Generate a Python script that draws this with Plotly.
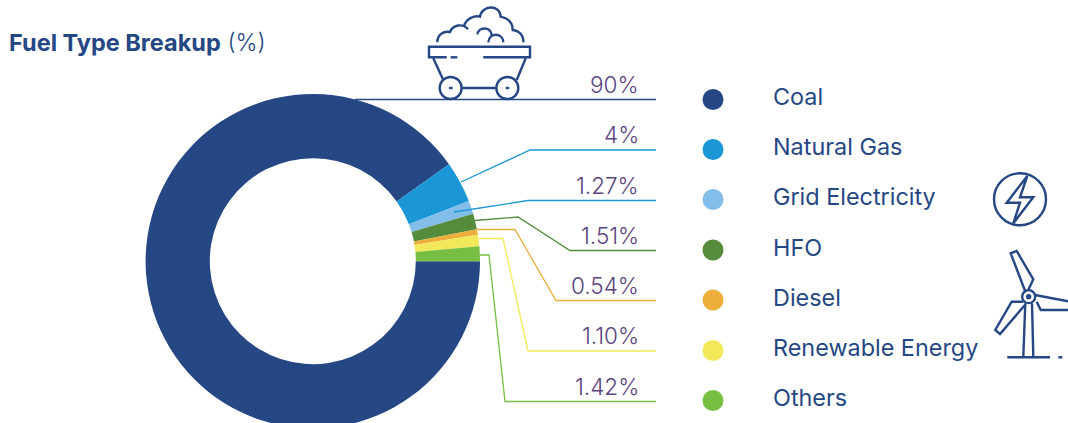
import plotly.graph_objects as go

categories = ["Coal", "Natural Gas", "Grid Electricity", "HFO", "Diesel", "Renewable Energy", "Others"]
values = [90, 4, 1.27, 1.51, 0.54, 1.10, 1.42]
value_labels = ["90%", "4%", "1.27%", "1.51%", "0.54%", "1.10%", "1.42%"]
colors = ["#254784", "#1b96d6", "#83bde9", "#548c3c", "#edae3c", "#f1e85a", "#76bf43"]
line_colors = ["#254784", "#1b96d6", "#1b96d6", "#548c3c", "#edae3c", "#f1e85a", "#76bf43"]
leaders = [
    [(355, 99.5), (656, 99.5)],
    [(461, 182), (530, 150), (656, 150)],
    [(454, 212), (528, 200.5), (656, 200.5)],
    [(475, 220.5), (518, 217), (570, 250.5), (656, 250.5)],
    [(477, 229.5), (515, 229.5), (556, 300.5), (656, 300.5)],
    [(479, 238.5), (503, 238.5), (528, 351), (656, 351)],
    [(480, 255), (489, 255), (505, 401.5), (656, 401.5)],
]
legend_y = [99.5, 149.5, 199.5, 250, 300, 350.5, 400.5]

W, H = 1068, 440
INK = "#254784"
PURPLE = "#5b4480"
FONT = "Inter"

fig = go.Figure()
fig.add_trace(go.Pie(
    labels=categories, values=values, sort=False, direction="clockwise", rotation=90,
    hole=0.616, marker=dict(colors=colors, line=dict(width=0)), textinfo="none",
    hoverinfo="none", showlegend=False,
    domain=dict(x=[145.6 / W, 480 / W], y=[1 - 428.4 / H, 1 - 94 / H]),
))
fig.add_trace(go.Scatter(
    x=[713] * len(categories), y=legend_y, mode="markers",
    marker=dict(size=21, color=colors), hoverinfo="none", showlegend=False,
))

shapes = []
def path(d, color=INK, width=2.4):
    shapes.append(dict(type="path", path=d, xref="x", yref="y", layer="above",
                       line=dict(color=color, width=width)))

def circle(cx, cy, r, color=INK, width=2.4, fill=None):
    shapes.append(dict(type="circle", x0=cx - r, x1=cx + r, y0=cy - r, y1=cy + r, xref="x", yref="y",
                       layer="above", line=dict(color=color, width=width), fillcolor=fill))

for pts, c in zip(leaders, line_colors):
    path("M" + " L".join(f"{x},{y}" for x, y in pts), color=c, width=1.3)

# Mine cart icon
def Z1(x, y):
    return f"{380 + x / 3:.1f},{y / 3:.1f}"
path(f"M{Z1(172,127)} C{Z1(172,105)} {Z1(190,92)} {Z1(210,96)} C{Z1(218,75)} {Z1(248,68)} {Z1(264,88)}")
path(f"M{Z1(252,78)} C{Z1(258,55)} {Z1(285,45)} {Z1(300,50)} C{Z1(305,15)} {Z1(360,12)} {Z1(362,50)} "
     f"C{Z1(385,55)} {Z1(398,70)} {Z1(398,90)} C{Z1(420,92)} {Z1(432,110)} {Z1(430,127)}")
path(f"M{Z1(292,103)} C{Z1(295,80)} {Z1(332,78)} {Z1(335,105)}")
path(f"M{Z1(325,127)} C{Z1(328,95)} {Z1(370,98)} {Z1(370,127)}")
path(f"M{Z1(200,172)} L{Z1(147,172)} L{Z1(147,140)} L{Z1(450,140)} L{Z1(450,172)} L{Z1(310,172)}")
path(f"M{Z1(212,172)} L{Z1(232,172)}")
path(f"M{Z1(160,175)} L{Z1(190,240)}")
path(f"M{Z1(437,175)} L{Z1(410,240)}")
path(f"M{Z1(247,264)} L{Z1(347,264)}")
path(f"M{Z1(207,264)} L{Z1(218,264)}")
path(f"M{Z1(377,264)} L{Z1(388,264)}")
circle(380 + 212 / 3, 264 / 3, 11)
circle(380 + 382 / 3, 264 / 3, 11)

# Bolt and wind turbine icons
def Z2(x, y):
    return f"{970 + x / 3:.1f},{160 + y / 3:.1f}"
circle(1020, 199.3, 26)
path(f"M{Z2(172,48)} L{Z2(110,128)} L{Z2(150,128)} L{Z2(130,190)} L{Z2(190,112)} L{Z2(150,112)} Z")
circle(970 + 176 / 3, 160 + 410 / 3, 6.5)
circle(970 + 176 / 3, 160 + 410 / 3, 1.5, fill=INK)
path(f"M{Z2(165,392)} L{Z2(122,280)} L{Z2(140,273)} L{Z2(190,358)} L{Z2(175,390)}")
path(f"M{Z2(160,425)} L{Z2(125,425)} L{Z2(76,510)} L{Z2(90,522)} L{Z2(165,435)}")
path(f"M{Z2(195,405)} L{Z2(300,425)}")
path(f"M{Z2(300,450)} L{Z2(212,450)} L{Z2(200,425)}")
path(f"M{Z2(166,430)} L{Z2(160,590)}")
path(f"M{Z2(186,430)} L{Z2(190,590)}")
path(f"M{Z2(112,592)} L{Z2(240,592)}")
path(f"M{Z2(265,592)} L{Z2(277,592)}")

annotations = [dict(
    text='<b>Fuel Type Breakup</b> <span style="font-weight:300">(%)</span>', x=7, y=42, xref="x", yref="y",
    xanchor="left", yanchor="middle", showarrow=False, font=dict(family=FONT, size=23.5, color=INK),
)]
for lab, cat, ly, pts in zip(value_labels, categories, legend_y, leaders):
    annotations.append(dict(text=lab, x=641, y=pts[-1][1] - 15.2, xref="x", yref="y", xanchor="right",
                            yanchor="middle", showarrow=False,
                            font=dict(family=FONT, size=22.5, color=PURPLE, weight=300)))
    annotations.append(dict(text=cat, x=771, y=ly - 2.6, xref="x", yref="y", xanchor="left",
                            yanchor="middle", showarrow=False,
                            font=dict(family=FONT, size=23.4, color=INK, weight=400)))

fig.update_layout(
    width=W, height=H, margin=dict(l=0, r=0, t=0, b=0),
    paper_bgcolor="white", plot_bgcolor="rgba(0,0,0,0)",
    xaxis=dict(range=[0, W], visible=False, fixedrange=True, domain=[0, 1]),
    yaxis=dict(range=[H, 0], visible=False, fixedrange=True, domain=[0, 1]),
    shapes=shapes, annotations=annotations,
)
fig.write_html(
    "out.html",
    config={"displayModeBar": False},
    post_script="document.body.style.margin='0';document.documentElement.style.overflow='hidden';document.body.style.overflow='hidden';",
)
